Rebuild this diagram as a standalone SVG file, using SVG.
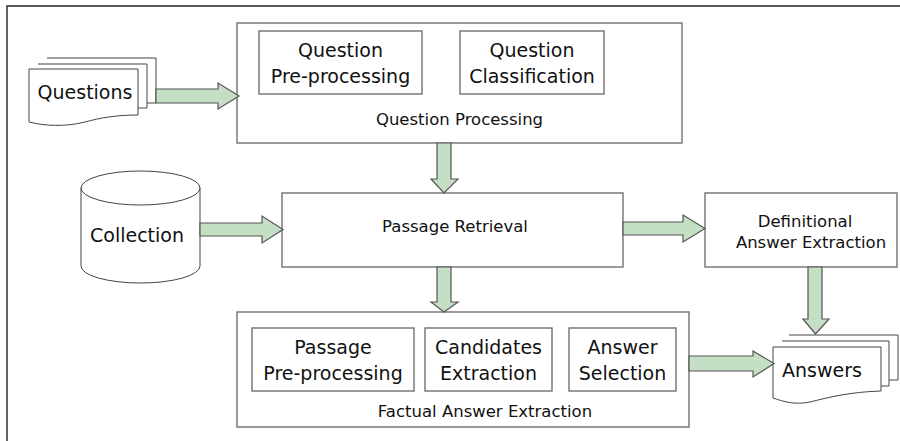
<svg xmlns="http://www.w3.org/2000/svg" width="900" height="441" viewBox="0 0 900 441">
<style>
.box{fill:#fff;stroke:#666;stroke-width:1.3}
.doc{fill:#fff;stroke:#444;stroke-width:1}
.arr{fill:#c4dfc4;stroke:#555;stroke-width:1.2;stroke-linejoin:miter}
text{font-family:"DejaVu Sans",Verdana,sans-serif;fill:#111;text-anchor:middle}
.big{font-size:19px}
.sm{font-size:16.5px}
</style>
<rect width="900" height="441" fill="#fff"/>
<path d="M7,450 V6 H910" fill="none" stroke="#222" stroke-width="1.4"/>

<g id="questions">
<path class="doc" d="M47,58 H156 V103 H147"/>
<path class="doc" d="M38,64 H147 V108 H138"/>
<path class="doc" d="M29,69 H138 V115 C115,115 100,118 85,122 C65,127 45,126 29,122 Z"/>
<text class="big" x="85" y="99">Questions</text>
</g>

<g id="question-processing">
<rect class="box" x="237" y="23" width="445" height="120"/>
<rect class="box" x="259" y="31" width="163" height="63"/>
<text class="big" x="340.5" y="57">Question</text>
<text class="big" x="340.5" y="83">Pre-processing</text>
<rect class="box" x="460" y="31" width="144" height="63"/>
<text class="big" x="532" y="57">Question</text>
<text class="big" x="532" y="83">Classification</text>
<text class="sm" x="459.5" y="125">Question Processing</text>
</g>

<g id="collection">
<path class="doc" d="M81,188 V266 A59.5,17 0 0 0 200,266 V188"/>
<ellipse class="doc" cx="140.5" cy="188" rx="59.5" ry="17"/>
<text class="big" x="137" y="242">Collection</text>
</g>

<g id="passage-retrieval">
<rect class="box" x="282" y="193" width="341" height="74"/>
<text class="sm" x="455" y="232">Passage Retrieval</text>
</g>

<g id="definitional">
<rect class="box" x="705" y="193" width="192" height="74"/>
<text class="sm" x="805" y="227">Definitional</text>
<text class="sm" x="811" y="248">Answer Extraction</text>
</g>

<g id="factual">
<rect class="box" x="237" y="312" width="452" height="115"/>
<rect class="box" x="252" y="328" width="162" height="63"/>
<text class="big" x="333" y="354">Passage</text>
<text class="big" x="333" y="380">Pre-processing</text>
<rect class="box" x="425" y="328" width="127" height="63"/>
<text class="big" x="488.5" y="354">Candidates</text>
<text class="big" x="488.5" y="380">Extraction</text>
<rect class="box" x="569" y="328" width="107" height="63"/>
<text class="big" x="622.5" y="354">Answer</text>
<text class="big" x="622.5" y="380">Selection</text>
<text class="sm" x="485" y="417">Factual Answer Extraction</text>
</g>

<g id="answers">
<path class="doc" d="M789,335 H898 V380 H889"/>
<path class="doc" d="M782,341 H889 V386 H881"/>
<path class="doc" d="M773,347 H881 V391 C850,392 830,397 810,402 C795,405 785,402 773,398 Z"/>
<text class="big" x="822" y="377">Answers</text>
</g>

<g id="connectors">
<path class="arr" d="M156,89 H218 V83 L239,96 L218,109 V103 H156 Z"/>
<path class="arr" d="M437,143 V179 H431 L444,193 L458,179 H451 V143 Z"/>
<path class="arr" d="M200,223 H262 V216 L283,229.5 L262,243 V236 H200 Z"/>
<path class="arr" d="M623,222 H683 V215 L705,228.5 L683,242 V235 H623 Z"/>
<path class="arr" d="M437,267 V302 H431 L444,312 L458,302 H451 V267 Z"/>
<path class="arr" d="M808,267 V319 H803 L815.5,334 L829,319 H822 V267 Z"/>
<path class="arr" d="M689,356 H753 V351 L774,363.5 L753,377 V371 H689 Z"/>
</g>
</svg>
